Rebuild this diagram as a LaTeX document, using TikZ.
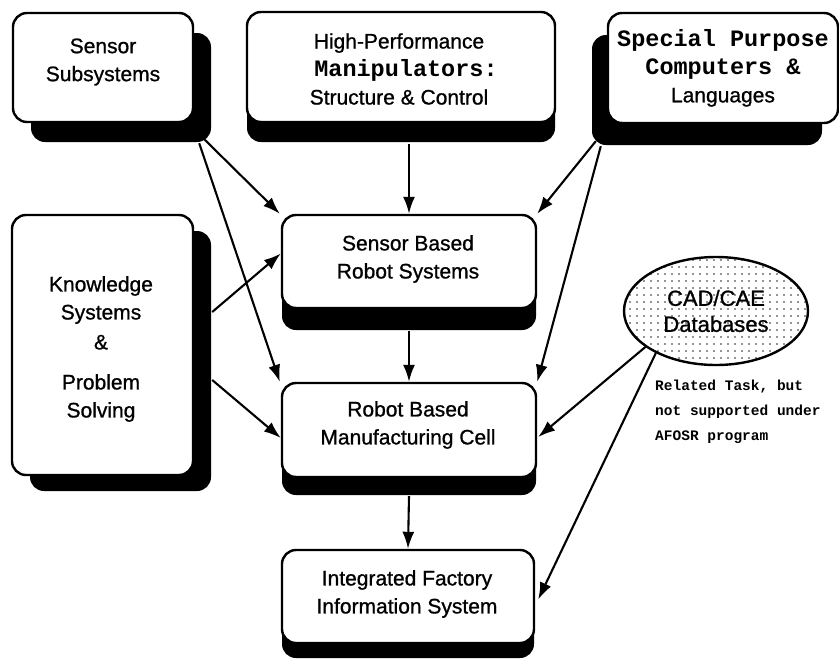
\documentclass[tikz,border=0pt]{standalone}
\usepackage{fontspec}
\setmainfont{Liberation Sans}[FakeBold=0.9]
\newfontfamily\monofam{Liberation Mono}
\usetikzlibrary{shadows,arrows.meta,patterns.meta,shapes.geometric}

\tikzset{
  card/.style={draw, line width=2.4pt, fill=white, rounded corners=14pt,
    inner sep=0pt},
  shade/.style 2 args={drop shadow={shadow xshift=#1, shadow yshift=#2,
    fill=black, opacity=1}},
  caption/.style={align=center, inner sep=0pt, font=\fontsize{21}{28}\selectfont},
  link/.style={line width=2.1pt, -{Latex[length=17pt,width=12pt]}}
}
\newcommand{\mtext}[1]{{\monofam\bfseries\fontsize{23.5}{28}\selectfont #1}}

\begin{document}
\begin{tikzpicture}[x=1pt,y=-1pt]
\useasboundingbox (0,0) rectangle (839,659);

% boxes with their drop shadows
\node[card, shade={18pt}{-20pt}, minimum width=180pt, minimum height=109pt]
  (ss) at (103,67.5) {};
\node[card, shade={0pt}{-20pt}, minimum width=308pt, minimum height=110pt]
  (hp) at (401,67) {};
\node[card, shade={-16pt}{-22pt}, minimum width=230pt, minimum height=110pt]
  (sp) at (723,68) {};
\node[card, shade={18pt}{-16pt}, minimum width=181pt, minimum height=260pt]
  (kn) at (102.5,345) {};
\node[card, shade={0pt}{-22pt}, minimum width=254pt, minimum height=93pt]
  (sb) at (409,261.5) {};
\node[card, shade={0pt}{-18pt}, minimum width=254pt, minimum height=94pt]
  (rb) at (409,430) {};
\node[card, shade={0pt}{-15pt}, minimum width=252pt, minimum height=93pt]
  (ifs) at (408,596.5) {};

% box captions
\node[caption] (ss-t) at (103,62) {Sensor\\Subsystems};
\node[caption] (hp-t) at (399,69) {High-Performance\\\hspace{14pt}\mtext{Manipulators:}\\Structure \& Control};
\node[caption] (sp-t) at (723,68) {\mtext{Special Purpose}\\\mtext{Computers \&}\\Languages};
\node[caption] (kn-t) at (101,349) {Knowledge\\Systems\\[2pt]\&\\[12pt]Problem\\Solving};
\node[caption] (sb-t) at (408,259) {Sensor Based\\Robot Systems};
\node[caption] (rb-t) at (408,425) {Robot Based\\Manufacturing Cell};
\node[caption] (ifs-t) at (407,594) {Integrated Factory\\Information System};

% database
\node[ellipse, draw, line width=2.4pt, minimum width=184pt, minimum height=108pt,
  inner sep=0pt, align=center, font=\fontsize{22}{26}\selectfont,
  preaction={fill=white},
  pattern={Dots[distance=7pt, radius=0.9pt]}, pattern color=black!85]
  (cad) at (716,311) {CAD/CAE\\Databases};

\node[anchor=north west, align=left, inner sep=0pt,
  font=\monofam\bfseries\fontsize{14.5}{25}\selectfont]
  (note) at (655,380) {Related Task, but\\not supported under\\AFOSR program};

% connectors
\draw[link] ([shift={(10,16)}]ss.south east) -- ([shift={(-1,0)}]sb.north west);
\draw[link] ([shift={(5,20)}]ss.south east) -- ([shift={(-1,0)}]rb.north west);
\draw[link] ([shift={(0,21)}]sb.north |- hp.south) -- (sb.north);
\draw[link] ([shift={(-11,17)}]sp.south west) -- (sb.north east);
\draw[link] ([shift={(-6,22)}]sp.south west) -- (rb.north east);
\draw[link] ([shift={(18,-33)}]kn.east) -- ([shift={(0,-8)}]sb.west);
\draw[link] ([shift={(18,35)}]kn.east) -- ([shift={(0,8)}]rb.west);
\draw[link] ([shift={(0,22)}]sb.south) -- (rb.north);
\draw[link] ([shift={(0,18)}]rb.south) -- (ifs.north);
\draw[link] (cad.207) -- ([shift={(1,7)}]rb.east);
\draw[link] (cad.215) -- ([shift={(3,3)}]ifs.east);
\end{tikzpicture}
\end{document}
